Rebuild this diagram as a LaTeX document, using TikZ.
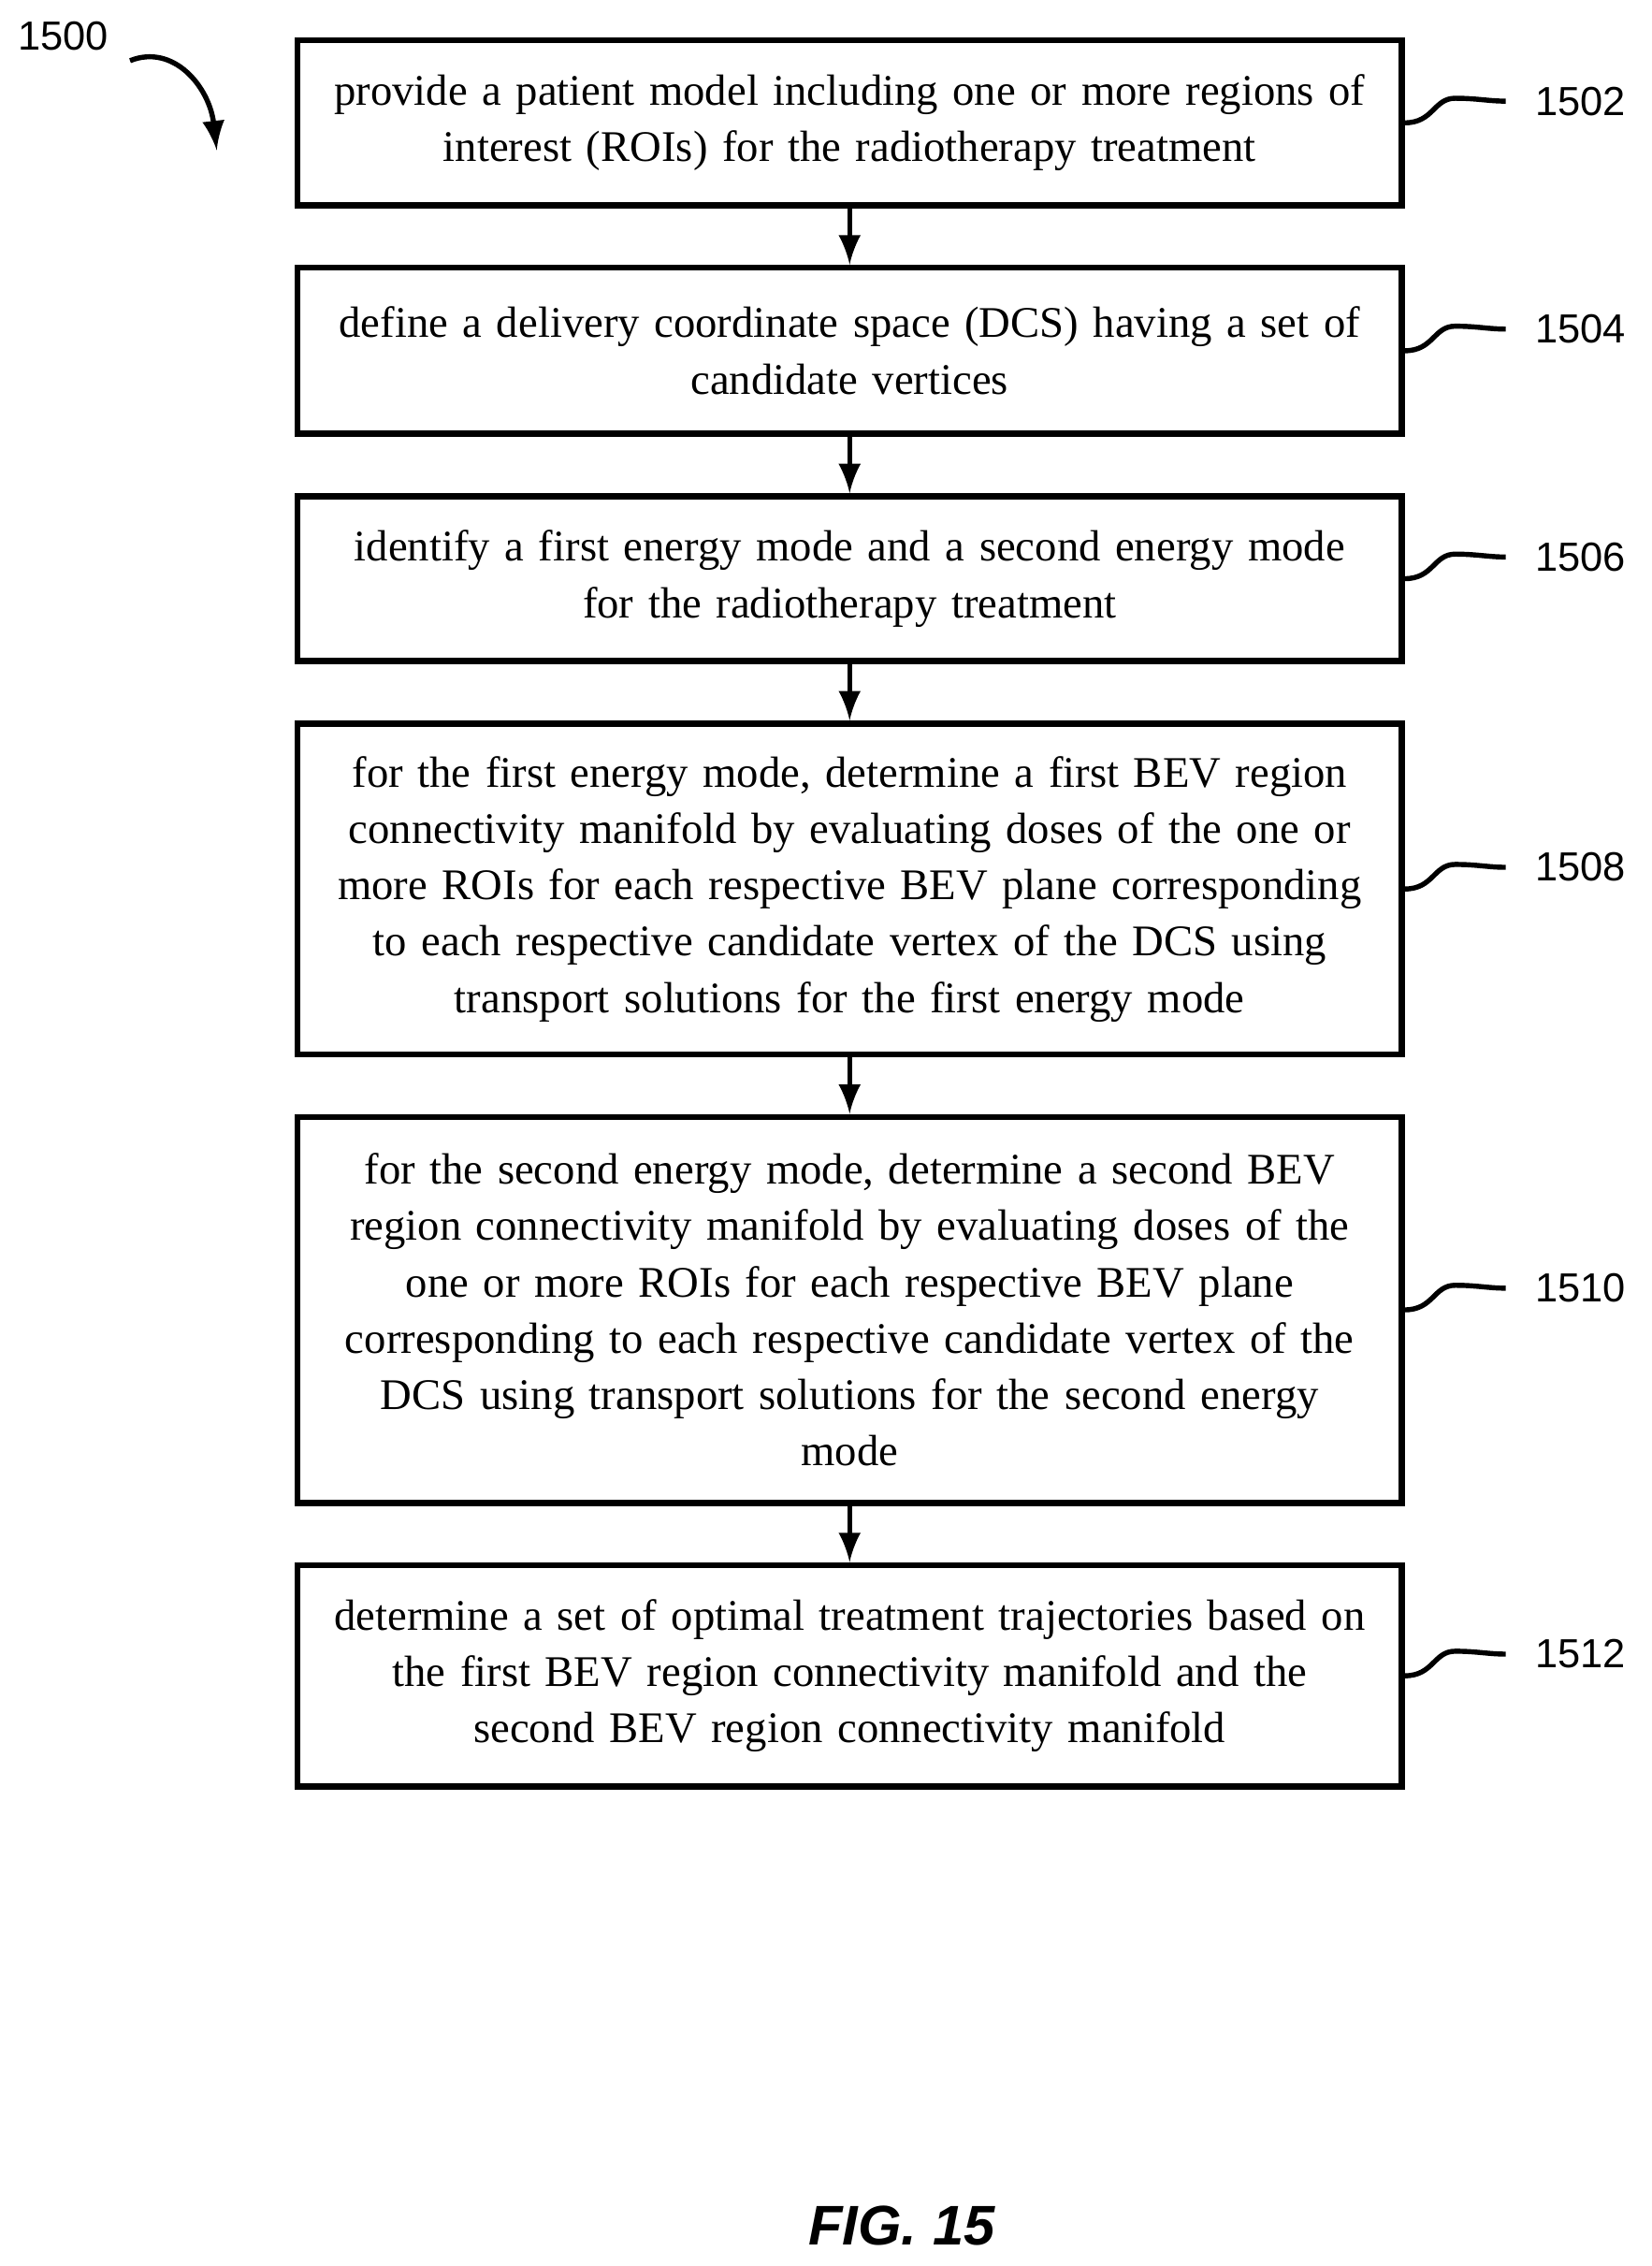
\documentclass[tikz,border=0pt]{standalone}
\usepackage{fontspec}
\setmainfont{Liberation Serif}
\newfontfamily\labfont{Liberation Sans}
\usetikzlibrary{arrows,positioning}
\tikzstyle{stepbox} = [rectangle, draw=black, line width=1.2pt, text width=7.6cm, inner xsep=0.02cm, inner ysep=0pt, align=center, font=\fontsize{8.6}{11.1}\selectfont]
\tikzstyle{arrow} = [line width=1pt,->,>=latex]
\tikzstyle{ref} = [anchor=west, font=\labfont\fontsize{8}{10}\selectfont]
\newcommand{\squig}[2]{%
  \draw[line width=1pt] (#1.east) .. controls +(0.2,0) and +(-0.15,0) .. ++(0.35,0.17) .. controls +(0.15,0) and +(-0.12,0) .. ++(0.35,-0.02) coordinate (#1s);
  \node[ref] (#1l) at ([xshift=0.08cm]#1s) {#2};}

\begin{document}
\begin{tikzpicture}[node distance=0.39cm]
        \useasboundingbox (0,0) rectangle (11.43,-15.68);
        \node[stepbox, minimum height=1.14cm] (s1) at (5.88,-0.85) {provide a patient model including one or more regions of\\interest (ROIs) for the radiotherapy treatment};
        \node[stepbox, minimum height=1.15cm, below=of s1] (s2) {define a delivery coordinate space (DCS) having a set of\\candidate vertices};
        \node[stepbox, minimum height=1.14cm, below=of s2] (s3) {identify a first energy mode and a second energy mode\\for the radiotherapy treatment};
        \node[stepbox, minimum height=2.29cm, below=of s3] (s4) {for the first energy mode, determine a first BEV region\\connectivity manifold by evaluating doses of the one or\\more ROIs for each respective BEV plane corresponding\\to each respective candidate vertex of the DCS using\\transport solutions for the first energy mode};
        \node[stepbox, minimum height=2.67cm, below=of s4] (s5) {for the second energy mode, determine a second BEV\\region connectivity manifold by evaluating doses of the\\one or more ROIs for each respective BEV plane\\corresponding to each respective candidate vertex of the\\DCS using transport solutions for the second energy\\mode};
        \node[stepbox, minimum height=1.53cm, below=of s5] (s6) {determine a set of optimal treatment trajectories based on\\the first BEV region connectivity manifold and the\\second BEV region connectivity manifold};
        %%%%%%%%%%%%%%%%%%%%%%%%%%%%%%%%%%%%%%%%%%%%%%%%%%%%%
        \draw[arrow] (s1) -- (s2);
        \draw[arrow] (s2) -- (s3);
        \draw[arrow] (s3) -- (s4);
        \draw[arrow] (s4) -- (s5);
        \draw[arrow] (s5) -- (s6);
        \squig{s1}{1502}
        \squig{s2}{1504}
        \squig{s3}{1506}
        \squig{s4}{1508}
        \squig{s5}{1510}
        \squig{s6}{1512}
        % figure number and caption
        \node[ref] (num) at (0.0,-0.25) {1500};
        \coordinate (tip) at (1.5,-1.04);
        \draw[arrow] (0.9,-0.42) .. controls (1.2,-0.3) and (1.45,-0.6) .. (tip);
        \node[font=\labfont\bfseries\itshape\fontsize{11}{13}\selectfont] (fig) at (6.24,-15.4) {FIG. 15};
\end{tikzpicture}
\end{document}
